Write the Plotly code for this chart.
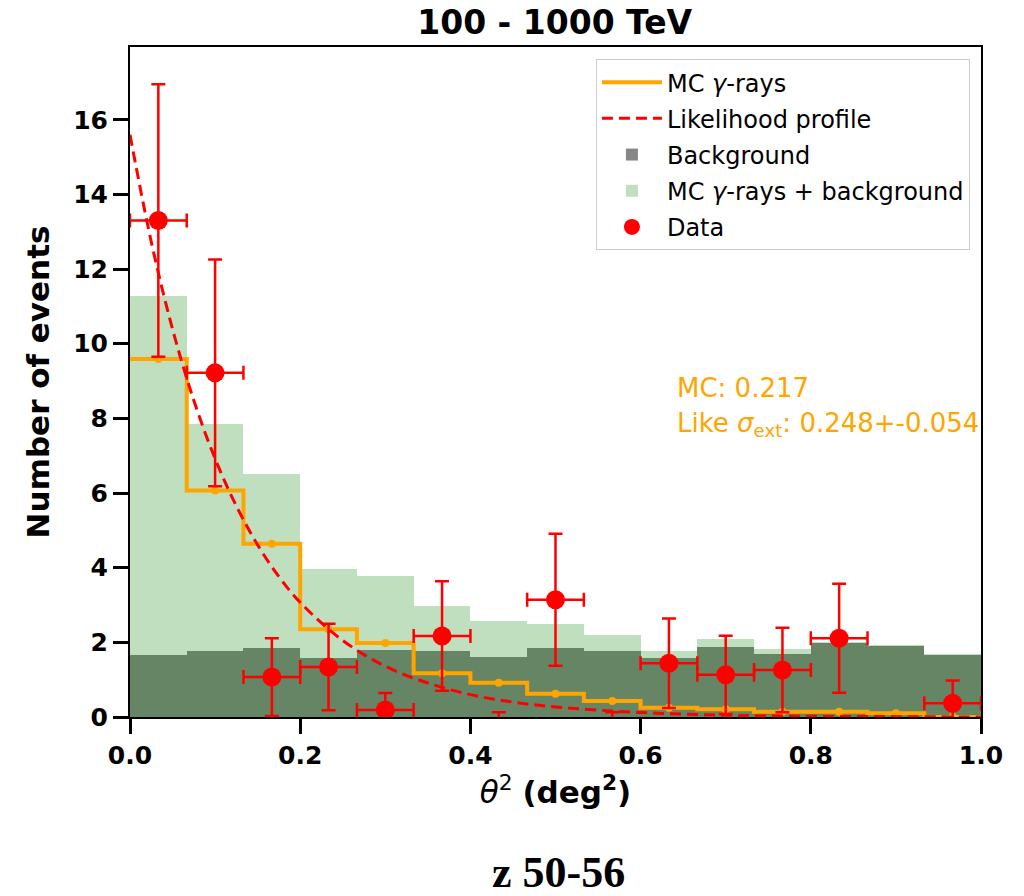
import plotly.graph_objects as go

# ---------------- data ----------------
bin_edges = [0.0, 0.0667, 0.1333, 0.2, 0.2667, 0.3333, 0.4, 0.4667,
             0.5333, 0.6, 0.6667, 0.7333, 0.8, 0.8667, 0.9333, 1.0]
bin_centers = [0.0333, 0.1, 0.1667, 0.2333, 0.3, 0.3667, 0.4333, 0.5,
               0.5667, 0.6333, 0.7, 0.7667, 0.8333, 0.9, 0.9667]

background = [1.67, 1.78, 1.84, 1.59, 1.80, 1.78, 1.62, 1.84,
              1.77, 1.57, 1.87, 1.70, 1.97, 1.90, 1.65]
mc_plus_background = [11.29, 7.86, 6.50, 3.96, 3.78, 2.98, 2.57, 2.48,
                      2.20, 1.77, 2.09, 1.81, 2.00, 1.94, 1.70]
mc_gamma = [9.59, 6.07, 4.64, 2.35, 1.98, 1.17, 0.92, 0.62,
            0.43, 0.25, 0.21, 0.14, 0.14, 0.10, 0.0]

data_counts = [13.3, 9.22, 1.07, 1.34, 0.19, 2.17, -0.72, 3.14,
               -0.72, 1.44, 1.13, 1.26, 2.11, -1.3, 0.37]
data_err = [3.65, 3.04, 1.04, 1.16, 0.45, 1.47, 0.85, 1.77,
            0.85, 1.20, 1.05, 1.13, 1.46, 1.14, 0.61]

lik_x = [0.0, 0.025, 0.05, 0.075, 0.1, 0.125, 0.15, 0.175, 0.2, 0.25,
         0.3, 0.35, 0.4, 0.45, 0.5, 0.6, 0.7, 0.8, 0.9, 1.0]
lik_y = [15.6, 12.73, 10.39, 8.48, 6.92, 5.65, 4.61, 3.76, 3.07, 2.05,
         1.36, 0.91, 0.60, 0.40, 0.27, 0.12, 0.05, 0.02, 0.01, 0.0]

title_text = "<b>100 - 1000 TeV</b>"
caption_text = "<b>z 50-56</b>"
mc_text = "MC: 0.217"
like_text = "Like <i>σ</i><sub>ext</sub>: 0.248+-0.054"

# ---------------- derived ----------------
bin_widths = [b - a for a, b in zip(bin_edges[:-1], bin_edges[1:])]
half_widths = [w / 2 for w in bin_widths]
step_y = mc_gamma + [mc_gamma[-1]]

ORANGE = "#FFA500"
FONT = "DejaVu Sans"

fig = go.Figure()

fig.add_trace(go.Bar(
    x=bin_centers, y=background, width=bin_widths,
    marker=dict(color="#878787", line=dict(width=0)),
    name="Background", legendrank=3, legendgroup="g3",
))
fig.add_trace(go.Bar(
    x=bin_centers, y=mc_plus_background, width=bin_widths,
    marker=dict(color="rgba(0,128,0,0.25)", line=dict(width=0)),
    name="MC <i>γ</i>-rays + background", legendrank=4, legendgroup="g4",
))
fig.add_trace(go.Scatter(
    x=bin_edges, y=step_y, mode="lines", line_shape="hv",
    line=dict(color=ORANGE, width=4),
    name="MC <i>γ</i>-rays", legendrank=1, legendgroup="g1",
))
fig.add_trace(go.Scatter(
    x=bin_centers, y=mc_gamma, mode="markers",
    marker=dict(color=ORANGE, size=8), showlegend=False, legendgroup="g1",
))
fig.add_trace(go.Scatter(
    x=lik_x, y=lik_y, mode="lines", line_shape="spline",
    line=dict(color="red", width=3, dash="11px,6px"),
    name="Likelihood profile", legendrank=2, legendgroup="g2",
))
fig.add_trace(go.Scatter(
    x=bin_centers, y=data_counts, mode="markers",
    marker=dict(color="red", size=19),
    error_y=dict(type="data", array=data_err, color="red", thickness=2.5, width=7),
    error_x=dict(type="data", array=half_widths, color="red", thickness=2.5, width=7),
    name="Data", legendrank=5, legendgroup="g5",
))

axis_common = dict(
    showgrid=False, zeroline=False,
    showline=True, linecolor="black", linewidth=2, mirror=True,
    ticks="outside", ticklen=15, tickwidth=3, tickcolor="black",
    tickfont=dict(family=FONT, size=25, color="black", weight="bold"),
)

fig.update_xaxes(
    range=[0, 1], tickmode="linear", tick0=0, dtick=0.2, tickformat=".1f",
    title=dict(text="<i>θ</i><sup>2</sup> <b>(deg<sup>2</sup>)</b>",
               font=dict(family=FONT, size=31, color="black"), standoff=12),
    **axis_common,
)
fig.update_yaxes(
    range=[0, 17.95], tickmode="linear", tick0=0, dtick=2,
    title=dict(text="<b>Number of events</b>",
               font=dict(family=FONT, size=31, color="black"), standoff=14),
    **axis_common,
)

fig.update_layout(
    width=1024, height=896,
    margin=dict(l=130, r=43, t=47, b=179, pad=0),
    paper_bgcolor="white", plot_bgcolor="white",
    barmode="overlay", bargap=0,
    font=dict(family=FONT, color="black"),
    title=dict(text=title_text, x=0.5417, xanchor="center",
               y=1 - 22 / 896, yanchor="middle",
               font=dict(family=FONT, size=33, color="black")),
    legend=dict(x=0.987, y=0.982, xanchor="right", yanchor="top",
                bgcolor="rgba(255,255,255,0.85)", bordercolor="#cccccc",
                borderwidth=1, font=dict(family=FONT, size=24, color="black"),
                traceorder="grouped", tracegroupgap=2, itemwidth=60),
    showlegend=True,
    annotations=[
        dict(text=mc_text, xref="paper", yref="paper", x=0.641, y=0.491,
             xanchor="left", yanchor="middle", showarrow=False,
             font=dict(family=FONT, size=26, color=ORANGE)),
        dict(text=like_text, xref="paper", yref="paper", x=0.641, y=0.436,
             xanchor="left", yanchor="middle", showarrow=False,
             font=dict(family=FONT, size=26, color=ORANGE)),
        dict(text=caption_text, xref="paper", yref="paper", x=0.503, y=-0.232,
             xanchor="center", yanchor="middle", showarrow=False,
             font=dict(family="Liberation Serif", size=44, color="black")),
    ],
)

fig.write_html("out.html", config={"displayModeBar": False},
               post_script="document.body.style.margin='0';")
